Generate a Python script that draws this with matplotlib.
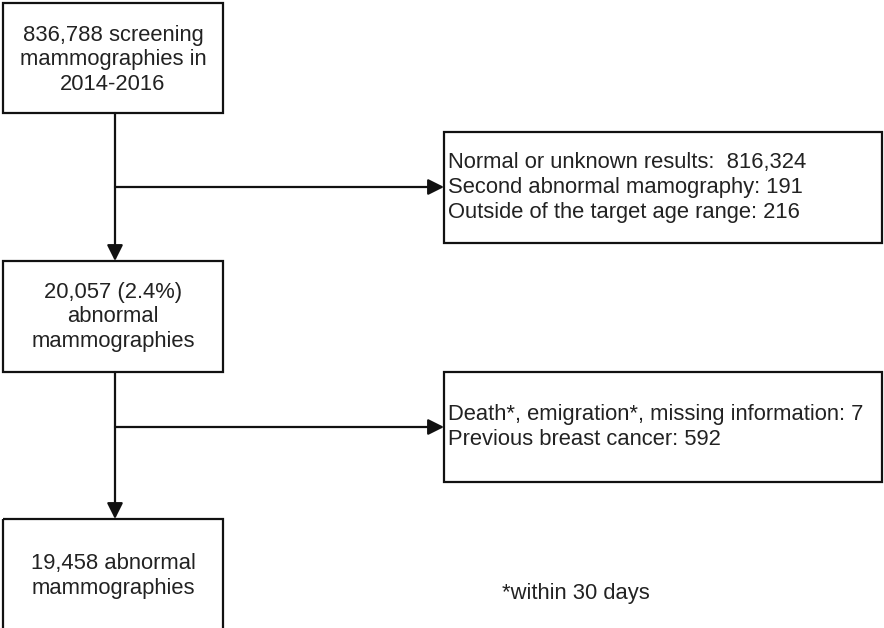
import matplotlib
matplotlib.use("Agg")
import matplotlib.pyplot as plt
from matplotlib.patches import Rectangle

# Text content
main_boxes = [
    "836,788 screening\nmammographies in\n2014-2016",
    "20,057 (2.4%)\nabnormal\nmammographies",
    "19,458 abnormal\nmammographies",
]
side_boxes = [
    "Normal or unknown results:  816,324\nSecond abnormal mamography: 191\nOutside of the target age range: 216",
    "Death*, emigration*, missing information: 7\nPrevious breast cancer: 592",
]
footnote = "*within 30 days"

# Layout (pixel coordinates)
main_x0, main_x1 = 3, 223
main_y = [(3, 113), (261, 372), (519, 660)]
main_text_y = [60, 317, 576]
side_x0, side_x1 = 444, 882
side_y = [(132, 243), (372, 482)]
trunk_x = 115
branch_y = [187, 427]

fig = plt.figure(figsize=(8.84, 6.28), dpi=100)
ax = fig.add_axes([0, 0, 1, 1])
ax.set_xlim(0, 884)
ax.set_ylim(628, 0)
ax.axis("off")

lw = 1.6
ec = "#111111"
tc = "#222222"
font = dict(family="Liberation Sans", fontsize=15.8, color=tc)

for (y0, y1), txt, ty in zip(main_y, main_boxes, main_text_y):
    ax.add_patch(Rectangle((main_x0, y0), main_x1 - main_x0, y1 - y0,
                           fill=False, ec=ec, lw=lw, clip_on=True))
    ax.text((main_x0 + main_x1) / 2, ty, txt, ha="center", va="center",
            linespacing=1.22, **font)

for (y0, y1), txt in zip(side_y, side_boxes):
    ax.add_patch(Rectangle((side_x0, y0), side_x1 - side_x0, y1 - y0,
                           fill=False, ec=ec, lw=lw))
    ax.text(side_x0 + 4, (y0 + y1) / 2, txt, ha="left", va="center",
            linespacing=1.22, **font)

arrow = dict(arrowstyle="-|>,head_length=0.6,head_width=0.3", color=ec, lw=lw,
             mutation_scale=16, shrinkA=0, shrinkB=0)
for i in range(2):
    ax.annotate("", xy=(trunk_x, main_y[i + 1][0]), xytext=(trunk_x, main_y[i][1]),
                arrowprops=arrow)
    ax.annotate("", xy=(side_x0, branch_y[i]), xytext=(trunk_x, branch_y[i]),
                arrowprops=arrow)

ax.text(502, 593, footnote, ha="left", va="center", **font)

fig.savefig("out.png", dpi=100)
